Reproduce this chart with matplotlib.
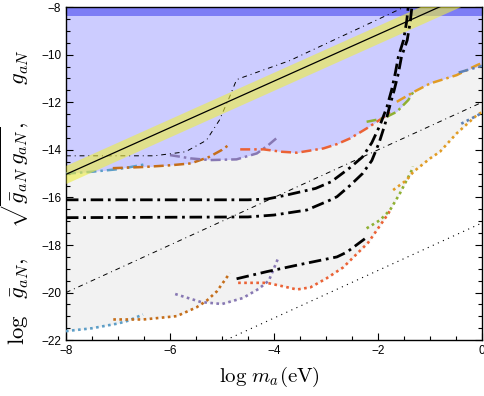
import numpy as np
import matplotlib
matplotlib.use('Agg')
import matplotlib.pyplot as plt

# ---- data (x = log m_a, y = log coupling) ----
# colour-coded limits, upper set (dash-dot, bound the blue region)
blue_dash_x = [-8.0, -7.5, -7.03, -6.75, -6.51]
blue_dash_y = [-15.0, -14.92, -14.82, -14.72, -14.62]
dorange_dash_x = [-7.1, -6.5, -6.0, -5.6, -5.25, -5.0, -4.85]
dorange_dash_y = [-14.77, -14.72, -14.65, -14.57, -14.3, -14.0, -13.76]
purple_dash_x = [-6.0, -5.6, -5.23, -4.72, -4.33, -4.11, -3.92]
purple_dash_y = [-14.22, -14.36, -14.43, -14.4, -14.15, -13.8, -13.45]
red_dash_x = [-4.65, -4.2, -3.85, -3.56, -3.05, -2.79, -2.54, -2.22, -1.83, -1.74]
red_dash_y = [-13.98, -13.98, -14.08, -14.12, -13.94, -13.76, -13.52, -13.1, -12.54, -12.33]
green_dash_x = [-2.22, -1.9, -1.64, -1.42, -1.32]
green_dash_y = [-12.82, -12.68, -12.4, -11.91, -11.56]
lorange_dash_x = [-1.64, -1.3, -1.0, -0.49, -0.1, 0.0]
lorange_dash_y = [-11.98, -11.55, -11.21, -10.86, -10.44, -10.35]
blue2_dash_x = [-0.45, 0.0]
blue2_dash_y = [-10.75, -10.47]

# lower set (dotted, bound the grey region from below)
blue_dot_x = [-8.0, -7.5, -7.0, -6.8, -6.52]
blue_dot_y = [-21.62, -21.5, -21.3, -21.18, -20.92]
dorange_dot_x = [-7.09, -6.51, -5.87, -5.49, -5.3, -5.1, -4.85]
dorange_dot_y = [-21.13, -21.13, -20.99, -20.62, -20.35, -19.95, -19.18]
purple_dot_x = [-5.9, -5.4, -5.0, -4.6, -4.3, -4.1, -3.92]
purple_dot_y = [-20.06, -20.4, -20.48, -20.23, -19.85, -19.5, -18.55]
red_dot_x = [-4.69, -4.14, -3.8, -3.56, -3.3, -2.99, -2.67, -2.19, -1.8, -1.75]
red_dot_y = [-19.59, -19.59, -19.75, -19.87, -19.78, -19.4, -18.94, -17.9, -16.67, -16.45]
green_dot_x = [-2.22, -1.96, -1.77, -1.58, -1.35, -1.33]
green_dot_y = [-17.3, -16.95, -16.53, -15.83, -14.85, -14.7]
lorange_dot_x = [-1.71, -1.45, -1.32, -1.0, -0.81, -0.49, -0.1, 0.0]
lorange_dot_y = [-15.69, -15.27, -14.92, -14.36, -14.08, -13.31, -12.54, -12.41]
blue2_dot_x = [-0.4, 0.0]
blue2_dot_y = [-12.9, -12.45]

# black curves
thickA_x = [-8.0, -4.5, -4.14, -3.8, -3.2, -2.9, -2.54, -2.3, -2.12, -1.96, -1.83,
            -1.74, -1.67, -1.61, -1.51, -1.45, -1.42]
thickA_y = [-16.1, -16.1, -16.07, -15.92, -15.62, -15.34, -14.75, -14.3, -13.7, -12.95,
            -12.2, -11.49, -10.79, -10.09, -9.39, -8.6, -8.0]
thickB_x = [-8.0, -4.5, -4.0, -3.37, -2.92, -2.79, -2.54, -2.3, -2.12, -1.98, -1.87,
            -1.78, -1.69, -1.61, -1.55, -1.44, -1.38, -1.35]
thickB_y = [-16.85, -16.82, -16.74, -16.53, -16.11, -15.97, -15.5, -15.0, -14.45, -13.7,
            -12.95, -12.2, -11.49, -10.79, -10.09, -9.39, -8.6, -8.0]
thickC_x = [-4.72, -4.14, -3.5, -2.79, -2.6, -2.2]
thickC_y = [-19.42, -19.12, -18.82, -18.5, -18.3, -17.65]

thin_top_x = [-8.0, -6.3, -5.7, -5.3, -5.05, -4.85, -4.72, -4.6, -3.7, -1.83, -1.5]
thin_top_y = [-14.25, -14.25, -14.08, -13.6, -12.75, -11.75, -11.05, -10.95, -10.25, -8.34, -8.0]
thin_mid_x = [-8.0, 0.0]
thin_mid_y = [-20.0, -12.0]
thin_dot_x = [-4.93, 0.0]
thin_dot_y = [-22.0, -17.07]

band_x = [-8.0, 0.0]
band_y = [-15.03, -7.19]
band_halfwidth = 0.38

top_band = [-8.37, -8.0]

xticks = [-8, -6, -4, -2, 0]
yticks = [-22, -20, -18, -16, -14, -12, -10, -8]

C_BLUE = '#5D9EC7'
C_DORANGE = '#C56E1A'
C_PURPLE = '#8778B3'
C_RED = '#EB6235'
C_GREEN = '#8FB032'
C_LORANGE = '#E19C24'
C_BLUE2 = '#5E81B5'


def envelope(curves, grid, fn):
    stack = []
    for cx, cy in curves:
        v = np.interp(grid, cx, cy)
        v[(grid < cx[0]) | (grid > cx[-1])] = np.nan
        stack.append(v)
    return fn(np.array(stack), axis=0)


plt.rcParams['mathtext.fontset'] = 'cm'
fig = plt.figure(figsize=(4.85, 3.96), dpi=100)
ax = fig.add_axes([0.136, 0.141, 0.858, 0.841])

grid = np.linspace(-8, 0, 801)
upper_curves = [(blue_dash_x, blue_dash_y), (dorange_dash_x, dorange_dash_y),
                (purple_dash_x, purple_dash_y), (red_dash_x, red_dash_y),
                (green_dash_x, green_dash_y), (lorange_dash_x, lorange_dash_y),
                (blue2_dash_x, blue2_dash_y)]
lower_curves = [(blue_dot_x, blue_dot_y), (dorange_dot_x, dorange_dot_y),
                (purple_dot_x, purple_dot_y), (red_dot_x, red_dot_y),
                (green_dot_x, green_dot_y), (lorange_dot_x, lorange_dot_y),
                (blue2_dot_x, blue2_dot_y)]
colors = [C_BLUE, C_DORANGE, C_PURPLE, C_RED, C_GREEN, C_LORANGE, C_BLUE2]
up_env = envelope(upper_curves, grid, np.nanmin)
lo_env = envelope(lower_curves, grid, np.nanmin)

ax.fill_between(grid, up_env, -8, color='#ccccff', lw=0, zorder=1)
ax.fill_between(grid, lo_env, up_env, color='#f2f2f2', lw=0, zorder=1)
ax.axhspan(top_band[0], top_band[1], color='#7d7df5', lw=0, zorder=2)

dd = (4, 1.6, 1, 1.6)
for (cx, cy), c in zip(upper_curves, colors):
    ax.plot(cx, cy, color=c, lw=1.8, dashes=dd, zorder=3)
for (cx, cy), c in zip(lower_curves, colors):
    ax.plot(cx, cy, color=c, lw=1.9, dashes=(1.0, 1.3), zorder=3)

ax.plot(thin_top_x, thin_top_y, color='k', lw=0.7, dashes=(5, 4, 1, 4), zorder=3)
ax.plot(thin_mid_x, thin_mid_y, color='k', lw=0.7, dashes=(5, 4, 1, 4), zorder=3)
ax.plot(thin_dot_x, thin_dot_y, color='k', lw=0.8, dashes=(1, 4), zorder=3)

# yellow band around the solid line
bx = np.array(band_x)
by = np.array(band_y)
ax.fill_between(bx, by - band_halfwidth, by + band_halfwidth, color='#eeee40', alpha=0.6,
                lw=0, zorder=4)
ax.plot(band_x, band_y, color='k', lw=0.9, zorder=5)

for cx, cy in [(thickA_x, thickA_y), (thickB_x, thickB_y), (thickC_x, thickC_y)]:
    ax.plot(cx, cy, color='k', lw=2.0, dashes=(4.5, 1.7, 1, 1.7), zorder=6)

ax.set_xlim(-8, 0)
ax.set_ylim(-22, -8)
ax.set_xticks(xticks)
ax.set_yticks(yticks)
ax.set_xticks(np.arange(-8, 0.01, 0.5), minor=True)
ax.set_yticks(np.arange(-22, -7.99, 0.5), minor=True)
ax.tick_params(which='both', direction='in', top=True, right=True, labelsize=8.5,
               width=0.8)
ax.tick_params(which='major', length=5)
ax.tick_params(which='minor', length=3)
ax.set_xticklabels(['\u22128', '\u22126', '\u22124', '\u22122', '0'], fontfamily='Liberation Sans')
ax.set_yticklabels(['\u221222', '\u221220', '\u221218', '\u221216', '\u221214', '\u221212',
                    '\u221210', '\u22128'], fontfamily='Liberation Sans')
for s in ax.spines.values():
    s.set_linewidth(1.0)

ax.set_xlabel(r'$\log\, m_a(\mathrm{eV})$', fontsize=15)
ax.set_ylabel(r'$\log\ \ \bar{g}_{aN},\quad\ \sqrt{\bar{g}_{aN}\,g_{aN}},\quad\ \ g_{aN}$',
              fontsize=16.5)
ax.yaxis.set_label_coords(-0.083, 0.43)
ax.xaxis.set_label_coords(0.49, -0.075)

fig.savefig('out.png', dpi=100)
